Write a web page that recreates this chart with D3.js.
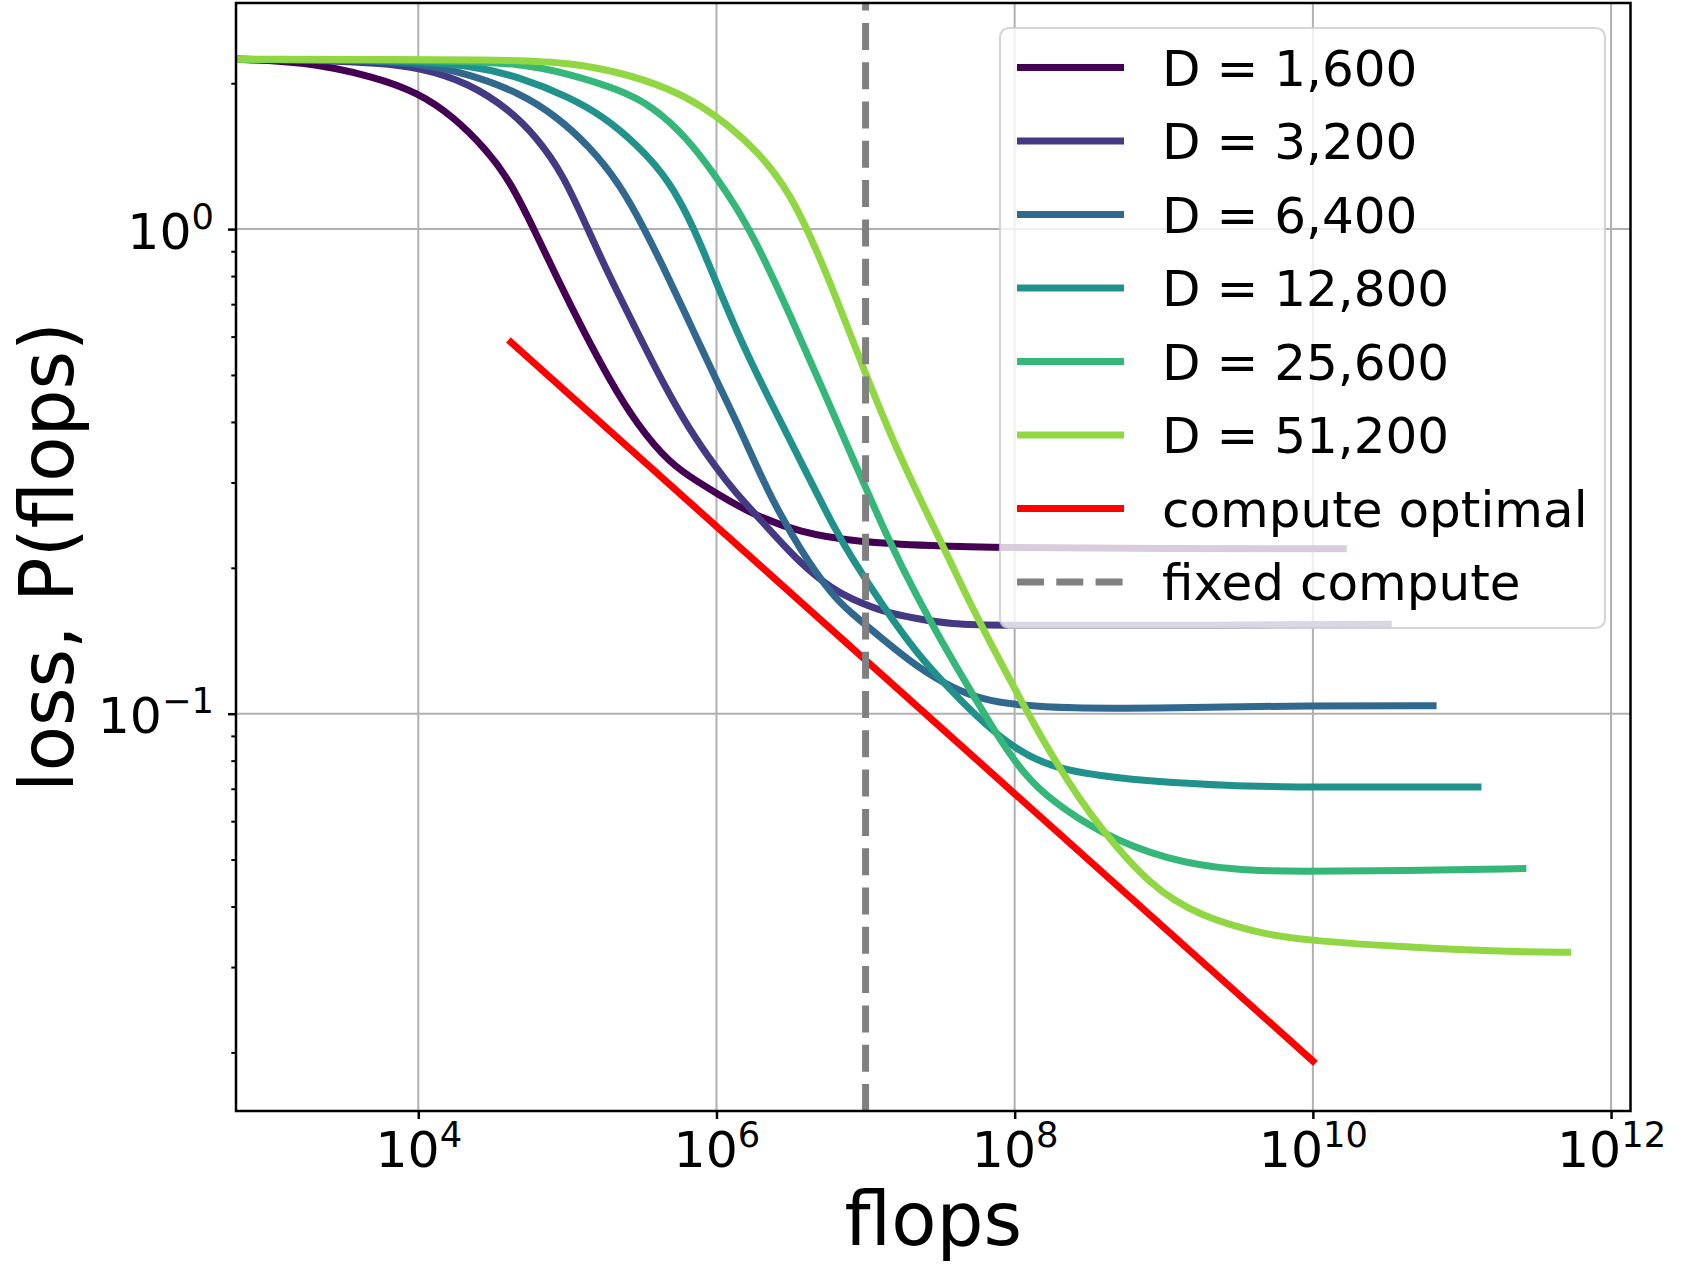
<!DOCTYPE html>
<html>
<head>
<meta charset="utf-8">
<script src="https://cdn.jsdelivr.net/npm/d3@7"></script>
<style>
  body { margin: 0; background: #fff; }
  svg { display: block; font-family: "DejaVu Sans", sans-serif; }
  svg text { font-family: "DejaVu Sans", sans-serif; }
</style>
</head>
<body>
<div id="chart"></div>
<script>

// series labels (one curve per D)
const dLabels = ["D = 1,600", "D = 3,200", "D = 6,400", "D = 12,800", "D = 25,600", "D = 51,200"];

// loss vs flops, [flops, loss]
const lossD1600 = [[599, 2.24], [1690, 2.22], [5220, 2.06], [1.0e4, 1.91], [1.71e4, 1.71], [2.86e4, 1.46],
    [4.10e4, 1.26], [5.97e4, 1.00], [8.43e4, 0.798], [1.27e5, 0.619], [1.92e5, 0.488], [2.90e5, 0.397],
    [4.85e5, 0.328], [7.78e5, 0.299], [1.0e6, 0.285], [1.69e6, 0.259], [3.65e6, 0.236], [8.9e6, 0.226],
    [2.84e7, 0.222], [7.6e7, 0.220], [1.0e9, 0.219], [1.6e10, 0.219]];
const lossD3200 = [[599, 2.24], [2510, 2.23], [5220, 2.20], [1.0e4, 2.16], [2.21e4, 2.00], [4.10e4, 1.76],
    [6.18e4, 1.55], [9.33e4, 1.30], [1.37e5, 1.00], [1.92e5, 0.798], [2.90e5, 0.619], [4.38e5, 0.481],
    [6.61e5, 0.385], [1.0e6, 0.321], [1.30e6, 0.289], [2.18e6, 0.243], [3.65e6, 0.204], [6.11e6, 0.180],
    [7.89e6, 0.173], [1.32e7, 0.162], [2.21e7, 0.157], [3.70e7, 0.153], [7.6e7, 0.152], [1.0e9, 0.152],
    [3.2e10, 0.153]];
const lossD6400 = [[599, 2.24], [4680, 2.23], [1.0e4, 2.20], [2.21e4, 2.09], [4.79e4, 1.91], [8.43e4, 1.71],
    [1.41e5, 1.48], [2.24e5, 1.24], [3.30e5, 1.00], [4.85e5, 0.785], [6.95e5, 0.619], [1.0e6, 0.487],
    [1.43e6, 0.389], [2.18e6, 0.289], [3.65e6, 0.217], [6.11e6, 0.174], [7.89e6, 0.162], [1.32e7, 0.142],
    [2.21e7, 0.125], [3.70e7, 0.1135], [6.19e7, 0.1067], [1.04e8, 0.1042], [2.24e8, 0.1025],
    [1.05e9, 0.1027], [1.01e10, 0.104], [6.4e10, 0.1038]];
const lossD12800 = [[599, 2.24], [8000, 2.23], [2.21e4, 2.18], [4.79e4, 2.06], [1.04e5, 1.87], [1.73e5, 1.71],
    [2.90e5, 1.50], [4.85e5, 1.26], [7.13e5, 1.00], [1.0e6, 0.773], [1.36e6, 0.619], [1.60e6, 0.555],
    [2.18e6, 0.455], [3.65e6, 0.333], [6.11e6, 0.243], [7.89e6, 0.212], [1.32e7, 0.166], [2.21e7, 0.133],
    [3.70e7, 0.112], [6.19e7, 0.0955], [1.04e8, 0.0841], [1.73e8, 0.0776], [4.38e8, 0.0735],
    [2.94e9, 0.0708], [1.01e10, 0.0705], [1.28e11, 0.0706]];
const lossD25600 = [[599, 2.24], [1.58e4, 2.23], [4.79e4, 2.20], [1.04e5, 2.09], [2.24e5, 1.94], [3.75e5, 1.79],
    [6.27e5, 1.55], [1.0e6, 1.28], [1.36e6, 1.11], [1.85e6, 0.94], [3.09e6, 0.67], [5.18e6, 0.466],
    [8.67e6, 0.324], [1.39e7, 0.232], [2.21e7, 0.174], [3.70e7, 0.131], [5.59e7, 0.106], [8.0e7, 0.0881],
    [1.15e8, 0.0752], [1.73e8, 0.0664], [3.75e8, 0.0566], [1.05e9, 0.0499], [2.94e9, 0.0475],
    [8.22e9, 0.0472], [3.86e10, 0.0474], [2.56e11, 0.0479]];
const lossD51200 = [[599, 2.24], [4.79e4, 2.24], [1.04e5, 2.20], [2.24e5, 2.11], [4.85e5, 1.95], [8.11e5, 1.79],
    [1.22e6, 1.63], [1.85e6, 1.455], [3.09e6, 1.20], [5.18e6, 0.849], [8.67e6, 0.562], [1.45e7, 0.378],
    [2.43e7, 0.269], [3.17e7, 0.228], [4.79e7, 0.174], [6.19e7, 0.149], [9.84e7, 0.1135], [1.73e8, 0.0828],
    [2.75e8, 0.0664], [3.75e8, 0.0582], [8.11e8, 0.044], [1.76e9, 0.0381], [4.92e9, 0.0349],
    [1.01e10, 0.034], [3.86e10, 0.033], [2.46e11, 0.0322], [5.12e11, 0.0322]];

// compute optimal frontier and the fixed compute budget
const computeOptimal = [[4.19e4, 0.584], [1.0e10, 0.0192]];
const fixedCompute = 1e7;

// axis limits and ticks
const xLimits = [599, 1.35e12];
const yLimits = [0.01514, 2.928];
const xMajorTicks = [1e4, 1e6, 1e8, 1e10, 1e12];
const xTickExps = ["4", "6", "8", "10", "12"];
const yMajorTicks = [0.1, 1];
const yTickExps = ["\u22121", "0"];
const yMinorTicks = [0.02, 0.03, 0.04, 0.05, 0.06, 0.07, 0.08, 0.09,
    0.2, 0.3, 0.4, 0.5, 0.6, 0.7, 0.8, 0.9, 2];

const FONT = "DejaVu Sans, sans-serif";

class ScalingPlot {

    constructor(parentElement) {
        this.parentElement = parentElement;
        this.series = [lossD1600, lossD3200, lossD6400, lossD12800, lossD25600, lossD51200];
        this.initVis();
    }

    initVis() {
        let vis = this;

        vis.margin = {top: 3, right: 55.5, bottom: 169, left: 236};
        vis.totalWidth = 1686;
        vis.totalHeight = 1280;
        vis.width = vis.totalWidth - vis.margin.left - vis.margin.right;
        vis.height = vis.totalHeight - vis.margin.top - vis.margin.bottom;

        vis.svg = d3.select("#" + vis.parentElement).append("svg")
            .attr("width", vis.totalWidth)
            .attr("height", vis.totalHeight);

        vis.svg.append("rect")
            .attr("width", vis.totalWidth)
            .attr("height", vis.totalHeight)
            .attr("fill", "#fff");

        vis.g = vis.svg.append("g")
            .attr("transform", `translate(${vis.margin.left}, ${vis.margin.top})`);

        vis.x = d3.scaleLog().domain(xLimits).range([0, vis.width]);
        vis.y = d3.scaleLog().domain(yLimits).range([vis.height, 0]);

        vis.g.append("clipPath").attr("id", "plot-clip")
            .append("rect").attr("width", vis.width).attr("height", vis.height);

        // grid
        vis.g.append("g").selectAll("line")
            .data(xMajorTicks)
            .join("line")
            .attr("x1", d => vis.x(d)).attr("x2", d => vis.x(d))
            .attr("y1", 0).attr("y2", vis.height)
            .attr("stroke", "#b0b0b0").attr("stroke-width", 2);

        vis.g.append("g").selectAll("line")
            .data(yMajorTicks)
            .join("line")
            .attr("x1", 0).attr("x2", vis.width)
            .attr("y1", d => vis.y(d)).attr("y2", d => vis.y(d))
            .attr("stroke", "#b0b0b0").attr("stroke-width", 2);

        vis.color = i => d3.interpolateViridis(i / 6);

        let line = d3.line()
            .x(d => vis.x(d[0]))
            .y(d => vis.y(d[1]))
            .curve(d3.curveBasis);

        let plot = vis.g.append("g").attr("clip-path", "url(#plot-clip)");

        plot.selectAll("path.loss")
            .data(vis.series)
            .join("path")
            .attr("class", "loss")
            .attr("d", line)
            .attr("fill", "none")
            .attr("stroke", (d, i) => vis.color(i))
            .attr("stroke-width", 7)
            .attr("stroke-linejoin", "round")
            .attr("stroke-linecap", "square");

        plot.append("path")
            .datum(computeOptimal)
            .attr("d", d3.line().x(d => vis.x(d[0])).y(d => vis.y(d[1])))
            .attr("fill", "none")
            .attr("stroke", "#ff0000")
            .attr("stroke-width", 7)
            .attr("stroke-linecap", "square");

        // vertical budget line, drawn from the bottom up like axvline
        plot.append("line")
            .attr("x1", vis.x(fixedCompute)).attr("x2", vis.x(fixedCompute))
            .attr("y1", vis.height).attr("y2", 0)
            .attr("stroke", "#808080")
            .attr("stroke-width", 7)
            .attr("stroke-dasharray", "27,12.3");

        vis.drawAxes();
        vis.drawLegend();
    }

    drawAxes() {
        let vis = this;
        let tickFont = 50.5, supFont = 35.3;

        let xAxis = vis.g.append("g")
            .attr("transform", `translate(0, ${vis.height})`)
            .call(d3.axisBottom(vis.x).tickValues(xMajorTicks).tickSize(8).tickSizeOuter(0).tickFormat(() => ""));

        xAxis.selectAll(".tick text").each(function (d, i) {
            let t = d3.select(this)
                .attr("y", 55.7).attr("dy", null)
                .attr("font-family", FONT)
                .attr("font-size", tickFont).attr("fill", "#000")
                .attr("text-anchor", "middle");
            t.append("tspan").text("10");
            t.append("tspan").attr("font-size", supFont).attr("dy", -20).text(xTickExps[i]);
        });

        let yAxis = vis.g.append("g")
            .call(d3.axisLeft(vis.y).tickValues(yMajorTicks).tickSize(8).tickSizeOuter(0).tickFormat(() => ""));

        yAxis.selectAll(".tick text").each(function (d, i) {
            let t = d3.select(this)
                .attr("x", -22).attr("y", 19).attr("dy", null)
                .attr("font-family", FONT)
                .attr("font-size", tickFont).attr("fill", "#000")
                .attr("text-anchor", "end");
            t.append("tspan").text("10");
            t.append("tspan").attr("font-size", supFont).attr("dy", -20).text(yTickExps[i]);
        });

        vis.g.append("g")
            .call(d3.axisLeft(vis.y).tickValues(yMinorTicks).tickSize(4.7).tickSizeOuter(0).tickFormat(() => ""))
            .call(g => g.selectAll(".tick line").attr("stroke-width", 2));

        vis.g.selectAll(".domain").remove();
        vis.g.selectAll(".tick line").filter(function () {
            return !d3.select(this).attr("stroke-width");
        }).attr("stroke-width", 2.5);

        // spines
        vis.g.append("rect")
            .attr("width", vis.width).attr("height", vis.height)
            .attr("fill", "none").attr("stroke", "#000").attr("stroke-width", 2.5);

        vis.svg.append("text")
            .attr("x", vis.margin.left + vis.width / 2)
            .attr("y", 1245)
            .attr("text-anchor", "middle")
            .attr("font-family", FONT)
            .attr("font-size", 74)
            .text("flops");

        vis.svg.append("text")
            .attr("transform", `translate(73, ${vis.margin.top + vis.height / 2}) rotate(-90)`)
            .attr("text-anchor", "middle")
            .attr("font-family", FONT)
            .attr("font-size", 74)
            .text("loss, P(flops)");
    }

    drawLegend() {
        let vis = this;
        let items = dLabels.map((label, i) => ({label: label, color: vis.color(i), dash: null}));
        items.push({label: "compute optimal", color: "#ff0000", dash: null});
        items.push({label: "fixed compute", color: "#808080", dash: "27,12.3"});

        let legend = vis.svg.append("g").attr("class", "legend");

        legend.append("rect")
            .attr("x", 1000).attr("y", 28)
            .attr("width", 605).attr("height", 600)
            .attr("rx", 9)
            .attr("fill", "#fff").attr("fill-opacity", 0.8)
            .attr("stroke", "#cccccc").attr("stroke-opacity", 0.8).attr("stroke-width", 2.2);

        let rows = legend.selectAll("g.row")
            .data(items)
            .join("g")
            .attr("class", "row")
            .attr("transform", (d, i) => `translate(0, ${67.6 + i * 73.5})`);

        rows.append("line")
            .attr("x1", 1017).attr("x2", 1124)
            .attr("stroke", d => d.color)
            .attr("stroke-width", 7)
            .attr("stroke-dasharray", d => d.dash);

        rows.append("text")
            .attr("x", 1162).attr("y", 18)
            .attr("font-family", FONT)
            .attr("font-size", 50)
            .text(d => d.label);
    }
}

new ScalingPlot("chart");
</script>
</body>
</html>
